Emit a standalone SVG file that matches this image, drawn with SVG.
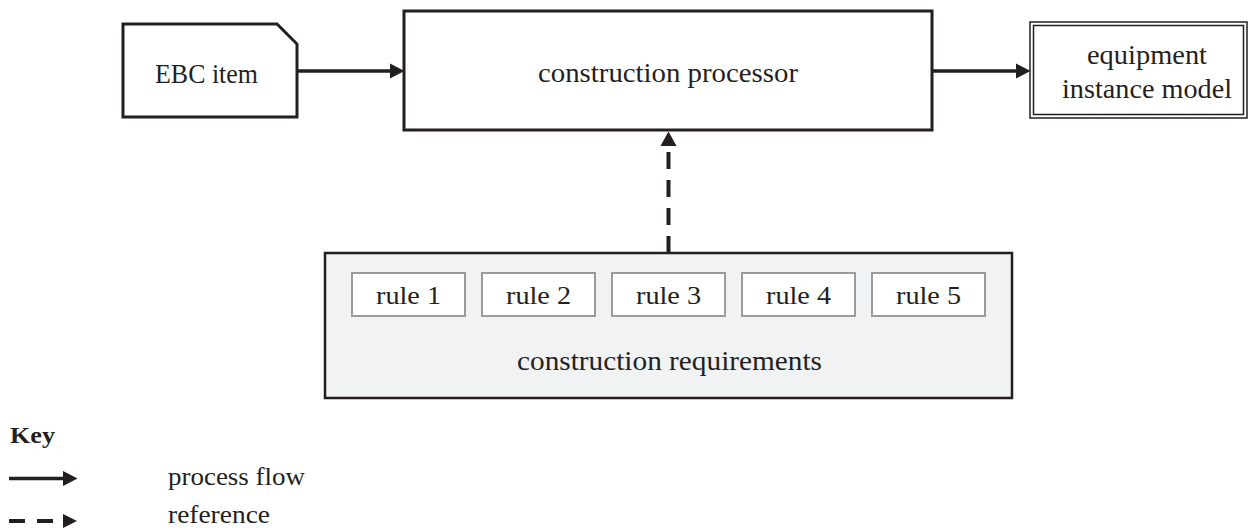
<svg xmlns="http://www.w3.org/2000/svg" width="1249" height="531" viewBox="0 0 1249 531">
<defs>
<style>
.t{font-family:"Liberation Serif","Times New Roman",serif;font-size:28px;fill:#231f20;text-anchor:middle}
.r{font-family:"Liberation Serif","Times New Roman",serif;font-size:26px;fill:#231f20;text-anchor:middle}
.k{font-family:"Liberation Serif","Times New Roman",serif;font-size:26px;fill:#231f20}
.box{fill:#fff;stroke:#231f20;stroke-width:3}
.rule{fill:#fff;stroke:#9b9b9b;stroke-width:2}
.flow{fill:none;stroke:#231f20;stroke-width:3.5}
.ref{fill:none;stroke:#231f20;stroke-width:4;stroke-dasharray:17 11}
</style>
<marker id="ah" markerUnits="userSpaceOnUse" markerWidth="15" markerHeight="16" refX="0" refY="7.5" orient="auto" overflow="visible">
<path d="M0,0 L14.5,7.5 L0,15 Z" fill="#231f20"/>
</marker>
</defs>

<g id="ebc-item">
<path class="box" d="M123,24 L277,24 L297,44 L297,117 L123,117 Z"/>
<text class="t" x="206.5" y="83" textLength="103" lengthAdjust="spacingAndGlyphs">EBC item</text>
</g>

<g id="construction-processor">
<rect class="box" x="404" y="11" width="528" height="119"/>
<text class="t" x="668" y="82" textLength="260" lengthAdjust="spacingAndGlyphs">construction processor</text>
</g>

<g id="equipment-instance-model">
<rect x="1030" y="22" width="217" height="96" fill="#fff" stroke="#231f20" stroke-width="1.5"/>
<rect x="1033.5" y="25.5" width="210" height="89" fill="none" stroke="#231f20" stroke-width="1.5"/>
<text class="t" x="1147" y="64" textLength="120" lengthAdjust="spacingAndGlyphs">equipment</text>
<text class="t" x="1147" y="98" textLength="170" lengthAdjust="spacingAndGlyphs">instance model</text>
</g>

<g id="construction-requirements">
<rect x="325" y="253" width="687" height="145" fill="#f1f2f4" stroke="#231f20" stroke-width="2.5"/>
<text class="t" x="669.5" y="370" textLength="305" lengthAdjust="spacingAndGlyphs">construction requirements</text>
<g id="rule-1"><rect class="rule" x="352" y="273" width="113" height="43"/><text class="r" x="408.5" y="304" textLength="65" lengthAdjust="spacingAndGlyphs">rule 1</text></g>
<g id="rule-2"><rect class="rule" x="482" y="273" width="113" height="43"/><text class="r" x="538.5" y="304" textLength="65" lengthAdjust="spacingAndGlyphs">rule 2</text></g>
<g id="rule-3"><rect class="rule" x="612" y="273" width="113" height="43"/><text class="r" x="668.5" y="304" textLength="65" lengthAdjust="spacingAndGlyphs">rule 3</text></g>
<g id="rule-4"><rect class="rule" x="742" y="273" width="113" height="43"/><text class="r" x="798.5" y="304" textLength="65" lengthAdjust="spacingAndGlyphs">rule 4</text></g>
<g id="rule-5"><rect class="rule" x="872" y="273" width="113" height="43"/><text class="r" x="928.5" y="304" textLength="65" lengthAdjust="spacingAndGlyphs">rule 5</text></g>
</g>

<g id="connectors">
<line class="flow" x1="297" y1="71" x2="390" y2="71" marker-end="url(#ah)"/>
<line class="flow" x1="932" y1="71" x2="1016" y2="71" marker-end="url(#ah)"/>
<line class="ref" x1="668.5" y1="253" x2="668.5" y2="146"/>
<path d="M660.5,146 L668.5,131.5 L676.5,146 Z" fill="#231f20"/>
</g>

<g id="key">
<text x="10" y="443" font-family="Liberation Serif, Times New Roman, serif" font-size="24" font-weight="bold" fill="#231f20" textLength="45" lengthAdjust="spacingAndGlyphs">Key</text>
<line class="flow" x1="9" y1="478.5" x2="63" y2="478.5" marker-end="url(#ah)"/>
<text class="k" x="168" y="485" textLength="137" lengthAdjust="spacingAndGlyphs">process flow</text>
<line x1="9" y1="521" x2="55" y2="521" stroke="#231f20" stroke-width="4" stroke-dasharray="16 12"/>
<path d="M63,514 L77,521 L63,528 Z" fill="#231f20"/>
<text class="k" x="168" y="523" textLength="102" lengthAdjust="spacingAndGlyphs">reference</text>
</g>
</svg>
